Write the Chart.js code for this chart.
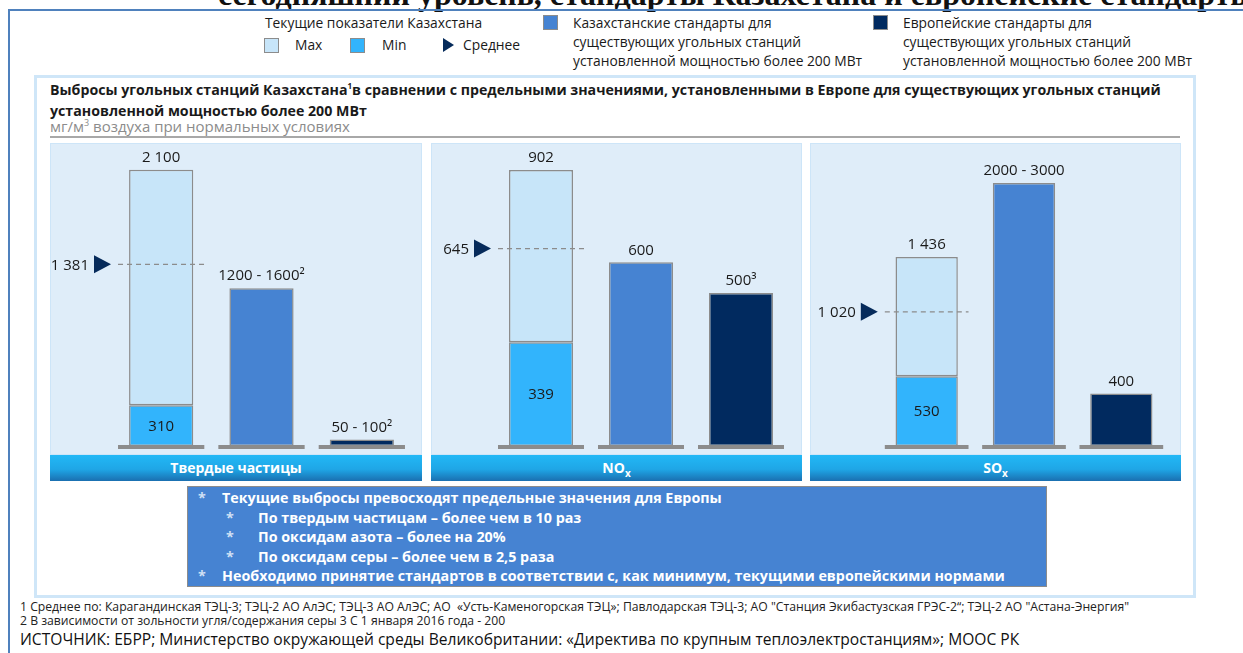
<!DOCTYPE html>
<html lang="ru">
<head>
<meta charset="utf-8">
<script src="https://cdn.jsdelivr.net/npm/chart.js@4.4.1/dist/chart.umd.min.js"></script>
<style>
  body { margin: 0; width: 1243px; height: 653px; overflow: hidden; background: #fff;
         font-family: "Open Sans", sans-serif; color: #1a1a1a; position: relative; }
  .abs { position: absolute; white-space: nowrap; }
  .cut { left: 218px; top: -22px; font: bold 32px/32px "Liberation Serif", serif; color: #111; }
  .frame { left: 8px; top: 9px; width: 1300px; height: 700px;
           border-top: 2px solid #4f81bd; border-left: 2px solid #4f81bd; }
  .leg { font-size: 13.8px; line-height: 19px; }
  .sw { width: 15px; height: 15px; border: 1px solid #8c8c8c; box-sizing: border-box; }
  .tri { width: 0; height: 0; border-top: 7px solid transparent; border-bottom: 7px solid transparent;
         border-left: 11px solid #062b5b; }
  .inner { left: 34px; top: 75px; width: 1156px; height: 517px; border: 3px solid #cfe6f8; }
  .title { left: 50px; top: 75px; font-weight: bold; font-size: 14.2px; line-height: 21.5px; }
  .sub { left: 50px; top: 116px; font-size: 15px; color: #8c8c8c; }
  .rule { left: 50px; top: 136px; width: 1130px; height: 2px; background: #a8a8a8; }
  .panel { top: 143px; height: 312px; background: #dfedf9; border: 1px solid #cde5f8; box-sizing: border-box; }
  .head { top: 455px; height: 26px; line-height: 26px; text-align: center; color: #fff;
          font-weight: bold; font-size: 14px;
          background: linear-gradient(#22b8f6, #1fa6e6 55%, #1a6fb0); }
  .head sub { font-size: 10px; }
  .box { left: 187px; top: 486px; width: 860px; height: 101px; background: #4683d2;
         border: 1px solid #8c8c8c; box-sizing: border-box; color: #fff; font-weight: bold;
         font-size: 14.3px; line-height: 19.5px; padding-top: 1px; }
  .box div { position: relative; height: 19.5px; }
  .box .st { position: absolute; color: #cfe0f5; }
  .fn { left: 20px; font-size: 12.2px; color: #222; }
  .src { left: 20px; top: 628px; font-size: 15.6px; color: #111; }
  canvas { position: absolute; }
</style>
</head>
<body>
<div class="abs cut">сегодняшний уровень, стандарты Казахстана и европейские стандарты</div>
<div class="abs frame"></div>

<div class="abs leg" style="left:265px;top:13px">Текущие показатели Казахстана</div>
<div class="abs sw" style="left:264px;top:38px;background:#c7e5f9"></div>
<div class="abs leg" style="left:295px;top:35px">Max</div>
<div class="abs sw" style="left:350px;top:38px;background:#32b4fc"></div>
<div class="abs leg" style="left:382px;top:35px">Min</div>
<div class="abs tri" style="left:443px;top:38px"></div>
<div class="abs leg" style="left:463px;top:35px">Среднее</div>
<div class="abs sw" style="left:543px;top:15px;background:#4683d2"></div>
<div class="abs leg" style="left:573px;top:13px">Казахстанские стандарты для<br>существующих угольных станций<br>установленной мощностью более 200 МВт</div>
<div class="abs sw" style="left:873px;top:15px;background:#012a5f"></div>
<div class="abs leg" style="left:903px;top:13px">Европейские стандарты для<br>существующих угольных станций<br>установленной мощностью более 200 МВт</div>

<div class="abs inner"></div>
<div class="abs title">Выбросы угольных станций Казахстана<sup style="font-size:8px">1</sup>в сравнении с предельными значениями, установленными в Европе для существующих угольных станций<br>установленной мощностью более 200 МВт</div>
<div class="abs sub">мг/м<sup style="font-size:9px">3</sup> воздуха при нормальных условиях</div>
<div class="abs rule"></div>

<div id="panels"></div>

<div class="abs box">
  <div><span class="st" style="left:10px">*</span><span class="abs" style="left:34px">Текущие выбросы превосходят предельные значения для Европы</span></div>
  <div><span class="st" style="left:38px">*</span><span class="abs" style="left:70px">По твердым частицам – более чем в 10 раз</span></div>
  <div><span class="st" style="left:38px">*</span><span class="abs" style="left:70px">По оксидам азота – более на 20%</span></div>
  <div><span class="st" style="left:38px">*</span><span class="abs" style="left:70px">По оксидам серы – более чем в 2,5 раза</span></div>
  <div><span class="st" style="left:10px">*</span><span class="abs" style="left:34px">Необходимо принятие стандартов в соответствии с, как минимум, текущими европейскими нормами</span></div>
</div>

<div class="abs fn" style="top:598px">1 Среднее по: Карагандинская ТЭЦ-3; ТЭЦ-2 АО АлЭС; ТЭЦ-3 АО АлЭС; АО &nbsp;«Усть-Каменогорская ТЭЦ»; Павлодарская ТЭЦ-3; АО "Станция Экибастузская ГРЭС-2“; ТЭЦ-2 АО "Астана-Энергия"</div>
<div class="abs fn" style="top:612px">2 В зависимости от зольности угля/содержания серы 3 С 1 января 2016 года - 200</div>
<div class="abs src">ИСТОЧНИК: ЕБРР; Министерство окружающей среды Великобритании: «Директива по крупным теплоэлектростанциям»; МООС РК</div>

<script>
// Показатели по трем загрязнителям
const POLLUTANTS = ["Твердые частицы", "NO<sub>x</sub>", "SO<sub>x</sub>"]
const CATEGORIES = ["Казахстан (факт)", "Стандарт РК", "Стандарт ЕС"]

const maxKz   = [2100, 902, 1436]
const minKz   = [310, 339, 530]
const avgKz   = [1381, 645, 1020]
const stdKz   = [1200, 600, 2000]
const stdEu   = [50, 500, 400]
const stdKzLabels = ["1200 - 1600²", "600", "2000 - 3000"]
const stdEuLabels = ["50 - 100²", "500³", "400"]

// верх шкалы каждой панели
const Y_MAX = [2250, 967, 2250]

const PANEL_X   = [50, 431, 810]
const PANEL_W   = [372, 371, 371]
const PAD_LEFT  = [61, 60, 68]

const FONT = '"Open Sans", sans-serif'

function fmt(n) {
  return n >= 1000 ? Math.floor(n / 1000) + " " + String(n % 1000).padStart(3, "0") : String(n)
}

const panelDecor = {
  id: "panelDecor",
  afterDatasetsDraw(chart, args, opts) {
    const i = opts.idx
    const { ctx, scales: { x, y } } = chart
    const step = x.getPixelForValue(1) - x.getPixelForValue(0)
    const base = y.getPixelForValue(0)

    ctx.save()
    // серые подставки под столбцами
    ctx.fillStyle = "#8c8c8c"
    for (let c = 0; c < 3; c++) {
      const cx = x.getPixelForValue(c)
      ctx.fillRect(cx - step * 0.43, base - 1, step * 0.86, 4)
    }

    ctx.fillStyle = "#1a1a1a"
    ctx.font = "15px " + FONT
    ctx.textAlign = "center"
    ctx.textBaseline = "middle"

    const tops = [maxKz[i], stdKz[i], stdEu[i]]
    const labels = [fmt(maxKz[i]), stdKzLabels[i], stdEuLabels[i]]
    tops.forEach((v, c) => {
      ctx.fillText(labels[c], x.getPixelForValue(c), y.getPixelForValue(v) - 12)
    })

    // минимум внутри столбца
    ctx.fillText(fmt(minKz[i]), x.getPixelForValue(0), (base + y.getPixelForValue(minKz[i])) / 2 + 1)

    // среднее: пунктир + треугольник + подпись
    const ay = y.getPixelForValue(avgKz[i])
    const x0 = x.getPixelForValue(0)
    ctx.strokeStyle = "#8c8c8c"
    ctx.lineWidth = 1.2
    ctx.setLineDash([5, 4])
    ctx.beginPath()
    ctx.moveTo(x0 - step * 0.43, ay)
    ctx.lineTo(x0 + step * 0.43, ay)
    ctx.stroke()
    ctx.setLineDash([])

    const tx = x0 - step * 0.43 - 7
    ctx.fillStyle = "#062b5b"
    ctx.beginPath()
    ctx.moveTo(tx, ay)
    ctx.lineTo(tx - 17, ay - 9)
    ctx.lineTo(tx - 17, ay + 9)
    ctx.closePath()
    ctx.fill()

    ctx.fillStyle = "#1a1a1a"
    ctx.textAlign = "right"
    ctx.fillText(fmt(avgKz[i]), tx - 22, ay + 1)
    ctx.restore()
  }
}

const host = document.getElementById("panels")

POLLUTANTS.forEach((name, i) => {
  const panel = document.createElement("div")
  panel.className = "abs panel"
  panel.style.left = PANEL_X[i] + "px"
  panel.style.width = PANEL_W[i] + "px"
  host.appendChild(panel)

  const head = document.createElement("div")
  head.className = "abs head"
  head.style.left = PANEL_X[i] + "px"
  head.style.width = PANEL_W[i] + "px"
  head.innerHTML = name
  host.appendChild(head)

  const cv = document.createElement("canvas")
  cv.width = PANEL_W[i]
  cv.height = 312
  cv.style.left = PANEL_X[i] + "px"
  cv.style.top = "143px"
  host.appendChild(cv)

  const common = {
    grouped: false,
    barPercentage: 0.64,
    categoryPercentage: 1,
    borderColor: "#8c8c8c",
    borderWidth: 1.5,
    borderSkipped: false,
  }

  new Chart(cv, {
    type: "bar",
    data: {
      labels: CATEGORIES,
      datasets: [
        { ...common, label: "Min", data: [minKz[i], null, null], backgroundColor: "#32b4fc" },
        { ...common, label: "Max", data: [[minKz[i], maxKz[i]], null, null], backgroundColor: "#c7e5f9" },
        { ...common, label: "Стандарт РК", data: [null, stdKz[i], null], backgroundColor: "#4683d2" },
        { ...common, label: "Стандарт ЕС", data: [null, null, stdEu[i]], backgroundColor: "#012a5f" },
      ]
    },
    options: {
      responsive: false,
      animation: false,
      devicePixelRatio: 1,
      layout: { padding: { left: PAD_LEFT[i], right: 372 - PANEL_W[i] + 10, top: 7, bottom: 9 } },
      plugins: { legend: { display: false }, tooltip: { enabled: false }, panelDecor: { idx: i } },
      scales: {
        x: { display: false },
        y: { display: false, min: 0, max: Y_MAX[i] }
      }
    },
    plugins: [panelDecor]
  })
})
</script>
</body>
</html>
